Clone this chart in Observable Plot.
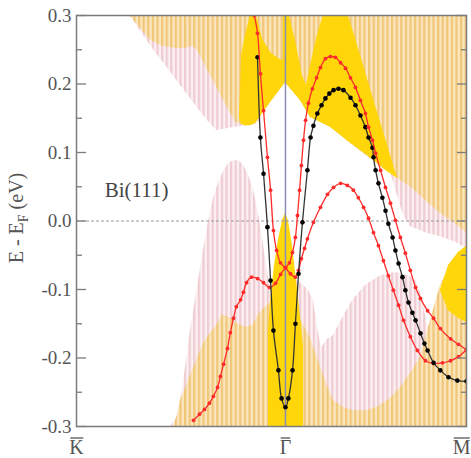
<!DOCTYPE html>
<html><head><meta charset="utf-8">
<script src="https://cdn.jsdelivr.net/npm/d3@7"></script>
<script src="https://cdn.jsdelivr.net/npm/@observablehq/plot@0.6"></script>
<style>body{margin:0;background:#fff}</style>
</head><body><div id="chart"></div>
<script>
// ---- axes / labels ----
const yTicks = [-0.3,-0.2,-0.1,0,0.1,0.2,0.3];
const yMinor = [-0.25,-0.15,-0.05,0.05,0.15,0.25];
const xTicks = [-0.8, 0, 0.693];
const xTickLabels = ["K", "\u0393", "M"];   // drawn with an overline (K̄, Γ̄, M̄)
const gammaK = [0];
const fermi = [0];
const sampleLabel = [{k: -0.570, e: 0.0445, t: "Bi(111)"}];
const yTitleParts = ["E - E", "F", " (eV)"];

// ---- bands (k in 1/Å, E in eV) ----
const blackK = [-0.107,-0.096,-0.084,-0.069,-0.057,-0.046,-0.027,-0.015,0.000,0.011,0.027,0.038,0.050,0.065,0.084,0.096,0.107,0.122,0.138,0.153,0.168,0.184,0.203,0.222,0.249,0.268,0.287,0.306,0.318,0.333,0.337,0.345,0.356,0.371,0.383,0.394,0.410,0.421,0.433,0.448,0.459,0.471,0.486,0.498,0.517,0.532,0.544,0.567,0.593,0.624,0.658,0.693];
const blackE = [0.239,0.122,0.069,-0.009,-0.087,-0.160,-0.218,-0.259,-0.272,-0.259,-0.218,-0.150,-0.077,-0.002,0.074,0.122,0.139,0.157,0.169,0.179,0.186,0.191,0.193,0.191,0.180,0.169,0.154,0.137,0.122,0.107,0.093,0.074,0.055,0.034,0.015,-0.004,-0.024,-0.043,-0.062,-0.082,-0.101,-0.119,-0.134,-0.145,-0.164,-0.179,-0.189,-0.207,-0.218,-0.228,-0.233,-0.234];

const r1K = [-0.119,-0.107,-0.096,-0.084,-0.069,-0.057,-0.046,-0.034,-0.019,0];
const r1E = [0.300,0.274,0.215,0.161,0.093,0.045,-0.014,-0.043,-0.061,-0.068];

const r2K = [-0.352,-0.329,-0.310,-0.291,-0.276,-0.260,-0.249,-0.237,-0.222,-0.211,-0.199,-0.188,-0.172,-0.161,-0.149,-0.130,-0.107,-0.084,-0.061,-0.038,-0.019,0];
const r2E = [-0.291,-0.282,-0.275,-0.266,-0.256,-0.243,-0.227,-0.209,-0.186,-0.163,-0.142,-0.125,-0.115,-0.104,-0.090,-0.082,-0.084,-0.090,-0.097,-0.091,-0.078,-0.068];

const r3K = [0,0.019,0.038,0.050,0.061,0.073,0.084,0.107,0.134,0.161,0.184,0.211,0.237,0.260,0.279,0.299,0.318,0.337,0.356,0.375,0.394,0.413,0.433,0.452,0.478,0.505,0.536,0.567,0.601,0.632,0.662,0.693];
const r3E = [-0.068,-0.077,-0.082,-0.072,-0.055,-0.040,-0.026,-0.002,0.020,0.039,0.049,0.055,0.052,0.045,0.034,0.020,0.004,-0.017,-0.036,-0.058,-0.080,-0.101,-0.123,-0.145,-0.169,-0.189,-0.204,-0.208,-0.207,-0.204,-0.198,-0.188];

const r4K = [0,0.015,0.027,0.038,0.046,0.054,0.061,0.069,0.077,0.088,0.103,0.119,0.134,0.153,0.172,0.191,0.211,0.230,0.249,0.268,0.287,0.306,0.318,0.333,0.345,0.364,0.383,0.402,0.421,0.440,0.459,0.478,0.498,0.517,0.544,0.567,0.593,0.632,0.662,0.693];
const r4E = [-0.068,-0.061,-0.046,-0.024,0.008,0.045,0.081,0.118,0.147,0.172,0.193,0.209,0.224,0.237,0.240,0.239,0.231,0.223,0.209,0.195,0.176,0.157,0.137,0.118,0.099,0.074,0.049,0.026,0.001,-0.024,-0.047,-0.072,-0.097,-0.113,-0.131,-0.142,-0.157,-0.172,-0.180,-0.188];

// ---- projected bulk band regions (k, lower E, upper E) ----
const pinkBandK  = [-0.612,-0.590,-0.517,-0.440,-0.364,-0.306,-0.264,-0.191,-0.115,-0.088];
const pinkBandLo = [0.300,0.297,0.256,0.217,0.179,0.150,0.132,0.137,0.141,0.150];

const pinkHumpK  = [-0.440,-0.417,-0.398,-0.379,-0.364,-0.348,-0.333,-0.314,-0.295,-0.276,-0.256,-0.237,-0.218,-0.199,-0.180,-0.161,-0.142,-0.122,-0.107,-0.092,-0.077,-0.061,-0.046,-0.034];
const pinkHumpHi = [-0.300,-0.288,-0.255,-0.204,-0.160,-0.123,-0.087,-0.043,-0.002,0.033,0.056,0.072,0.084,0.088,0.088,0.082,0.068,0.045,0.018,-0.014,-0.053,-0.094,-0.138,-0.167];

const pinkRightK  = [0,0.019,0.057,0.088,0.107,0.122,0.138,0.157,0.184,0.218,0.257,0.306,0.364,0.421,0.471,0.498,0.517,0.532,0.544,0.555];
const pinkRightHi = [-0.080,-0.080,-0.090,-0.101,-0.116,-0.153,-0.186,-0.174,-0.167,-0.142,-0.116,-0.094,-0.080,-0.075,-0.080,-0.087,-0.104,-0.131,-0.153,-0.164];

const pinkURK  = [0.402,0.429,0.452,0.478,0.536,0.593,0.651,0.693];
const pinkURLo = [0.071,0.037,0.008,-0.008,-0.017,-0.023,-0.031,-0.040];

const orangeTopK  = [-0.597,-0.555,-0.517,-0.478,-0.421,-0.383,-0.356,-0.337,-0.287,-0.241,-0.191,-0.153,-0.115,-0.057,0,0.057,0.096,0.172,0.249,0.325,0.383,0.429,0.478,0.536,0.593,0.651,0.693];
const orangeTopLo = [0.300,0.281,0.264,0.256,0.252,0.252,0.255,0.249,0.212,0.179,0.144,0.139,0.142,0.173,0.202,0.176,0.151,0.137,0.113,0.091,0.074,0.062,0.050,0.030,0.011,-0.004,-0.017];

const orangeBotK  = [-0.429,-0.413,-0.402,-0.383,-0.367,-0.341,-0.314,-0.287,-0.264,-0.241,-0.211,-0.184,-0.153,-0.126,-0.103,-0.084,-0.057,0,0.038,0.065,0.096,0.119,0.142,0.165,0.184,0.222,0.260,0.306,0.352,0.402,0.440,0.478,0.517,0.555,0.593,0.632,0.662,0.693];
const orangeBotHi = [-0.300,-0.284,-0.262,-0.245,-0.228,-0.204,-0.179,-0.163,-0.153,-0.137,-0.142,-0.150,-0.155,-0.153,-0.137,-0.128,-0.119,-0.116,-0.131,-0.148,-0.172,-0.196,-0.221,-0.245,-0.262,-0.272,-0.277,-0.277,-0.272,-0.259,-0.243,-0.223,-0.199,-0.145,-0.094,-0.065,-0.050,-0.040];

const yellowTopK  = [-0.176,-0.168,-0.153,-0.134,-0.115,-0.057,0,0.057,0.096,0.172,0.241,0.287,0.333,0.383,0.429];
const yellowTopLo = [0.150,0.141,0.139,0.139,0.142,0.173,0.202,0.176,0.151,0.137,0.116,0.103,0.090,0.074,0.062];
const yellowTopHi = [0.150,0.242,0.271,0.300,0.300,0.300,0.300,0.300,0.300,0.300,0.300,0.242,0.183,0.120,0.062];

const yellowSpikeK  = [-0.065,-0.057,-0.042,-0.027,-0.011,0,0.011,0.027,0.042,0.057,0.069];
const yellowSpikeHi = [-0.160,-0.116,-0.065,-0.028,0.001,0.011,0.001,-0.036,-0.087,-0.138,-0.182];

const yellowEdgeK  = [0.593,0.624,0.662,0.693];
const yellowEdgeLo = [-0.102,-0.131,-0.142,-0.148];
const yellowEdgeHi = [-0.102,-0.065,-0.046,-0.037];

const tongueLK  = [-0.111,-0.088,-0.057,-0.027,-0.008];
const tongueLLo = [0.300,0.266,0.246,0.237,0.234];
const tongueRK  = [0.015,0.038,0.065,0.080,0.100,0.122,0.145];
const tongueRLo = [0.300,0.264,0.212,0.198,0.234,0.271,0.300];

// ---- helpers ----
const pts = (K, E) => K.map((k, i) => ({k, e: E[i]}));
const region = (K, lo, hi) => K.map((k, i) => ({
  k,
  lo: Array.isArray(lo) ? lo[i] : lo,
  hi: Array.isArray(hi) ? hi[i] : hi
}));
const xLabels = xTicks.map((k, i) => ({k, t: xTickLabels[i]}));

const ORANGE = "url(#stripeO)", PINK = "url(#stripeP)", YELLOW = "#ffd60a";
const area = (data, fill) => Plot.areaY(data, {x: "k", y1: "lo", y2: "hi", fill, clip: true});

const red = "#ff2b2b";
const redCurve = (data) => [
  Plot.line(data, {x: "k", y: "e", stroke: red, strokeWidth: 1.3, curve: "catmull-rom", clip: true}),
  Plot.dot(data, {x: "k", y: "e", r: 1.9, fill: red, clip: true})
];

const serif = "'Liberation Serif', 'DejaVu Serif', serif";
const tickStyle = {tickFormat: () => "", stroke: "#7c7c7c", strokeWidth: 1.3, label: null};

const chart = Plot.plot({
  width: 471, height: 458,
  marginLeft: 76, marginRight: 5, marginTop: 15, marginBottom: 32,
  x: {domain: [-0.8, 0.693], axis: null},
  y: {domain: [-0.3, 0.3], axis: null},
  style: {fontFamily: serif, background: "white", overflow: "visible"},
  marks: [
    area(region(pinkBandK, pinkBandLo, 0.3), PINK),
    area(region(pinkHumpK, -0.3, pinkHumpHi), PINK),
    area(region(pinkRightK, -0.3, pinkRightHi), PINK),
    area(region(pinkURK, pinkURLo, 0.3), PINK),
    area(region(orangeTopK, orangeTopLo, 0.3), ORANGE),
    area(region(orangeBotK, -0.3, orangeBotHi), ORANGE),
    area(region(yellowTopK, yellowTopLo, yellowTopHi), YELLOW),
    area(region(yellowSpikeK, -0.3, yellowSpikeHi), YELLOW),
    area(region(yellowEdgeK, yellowEdgeLo, yellowEdgeHi), YELLOW),
    area(region(tongueLK, tongueLLo, 0.3), ORANGE),
    area(region(tongueRK, tongueRLo, 0.3), ORANGE),
    Plot.ruleX(gammaK, {stroke: "#8a8eb4", strokeWidth: 1.5}),
    Plot.ruleY(fermi, {stroke: "#9a9a9a", strokeWidth: 1, strokeDasharray: "3,2"}),
    ...redCurve(pts(r2K, r2E)),
    ...redCurve(pts(r3K, r3E)),
    Plot.line(pts(blackK, blackE), {x: "k", y: "e", stroke: "#333", strokeWidth: 1.3, curve: "catmull-rom", clip: true}),
    Plot.dot(pts(blackK, blackE), {x: "k", y: "e", r: 2.3, fill: "#000", clip: true}),
    ...redCurve(pts(r1K, r1E)),
    ...redCurve(pts(r4K, r4E)),
    Plot.text(sampleLabel, {x: "k", y: "e", text: "t", fontSize: 21, fill: "#444", fontFamily: serif}),
    Plot.frame({stroke: "#7c7c7c", strokeWidth: 1.5}),
    Plot.axisY({ticks: yTicks, anchor: "left", tickSize: 10, dx: 10, ...tickStyle}),
    Plot.axisY({ticks: yMinor, anchor: "left", tickSize: 6, dx: 6, ...tickStyle}),
    Plot.axisY({ticks: yTicks, anchor: "right", tickSize: 10, dx: -10, ...tickStyle}),
    Plot.axisY({ticks: yMinor, anchor: "right", tickSize: 6, dx: -6, ...tickStyle}),
    Plot.axisY({ticks: yTicks, anchor: "left", tickSize: 0, tickPadding: 5, tickFormat: d => d.toFixed(1), fontSize: 19, fill: "#555", fontFamily: serif, label: null}),
    Plot.text(xLabels.slice(0, 2), {x: "k", text: "t", frameAnchor: "bottom", dy: 27, fontSize: 20, fill: "#555", fontFamily: serif}),
    Plot.text(xLabels.slice(2), {x: "k", text: "t", frameAnchor: "bottom", dy: 27, dx: 4, textAnchor: "end", fontSize: 20, fill: "#555", fontFamily: serif})
  ]
});

// stripe patterns for the hatched bulk regions
const svg = d3.select(chart);
const defs = svg.insert("defs", ":first-child");
function stripes(id, light, dark) {
  const p = defs.append("pattern").attr("id", id).attr("patternUnits", "userSpaceOnUse")
    .attr("width", 4.6).attr("height", 10);
  p.append("rect").attr("width", 4.6).attr("height", 10).attr("fill", light);
  p.append("rect").attr("width", 2.2).attr("height", 10).attr("fill", dark);
}
stripes("stripeO", "#fae6bf", "#f1c676");
stripes("stripeP", "#fcf0f2", "#efccd2");

// y-axis title with subscript
const t = svg.append("text")
  .attr("transform", "translate(23,218) rotate(-90)")
  .attr("text-anchor", "middle")
  .attr("font-size", 20).attr("fill", "#555").attr("font-family", serif);
t.append("tspan").text(yTitleParts[0]);
t.append("tspan").attr("font-size", 14).attr("dy", 5).text(yTitleParts[1]);
t.append("tspan").attr("dy", -5).text(yTitleParts[2]);

document.getElementById("chart").append(chart);

// overline bars on the high-symmetry point labels (K̄, Γ̄, M̄), sized from each label's box,
// drawn inside the label's own group so they share its coordinate system
svg.selectAll("text").filter(function() { return xTickLabels.includes(this.textContent); })
  .each(function() {
    const b = this.getBBox();
    d3.select(this.parentNode).append("line")
      .attr("transform", this.getAttribute("transform"))
      .attr("stroke", "#555").attr("stroke-width", 1.3)
      .attr("x1", b.x + 1).attr("x2", b.x + b.width - 1)
      .attr("y1", b.y + 2.5).attr("y2", b.y + 2.5);
  });
</script></body></html>
